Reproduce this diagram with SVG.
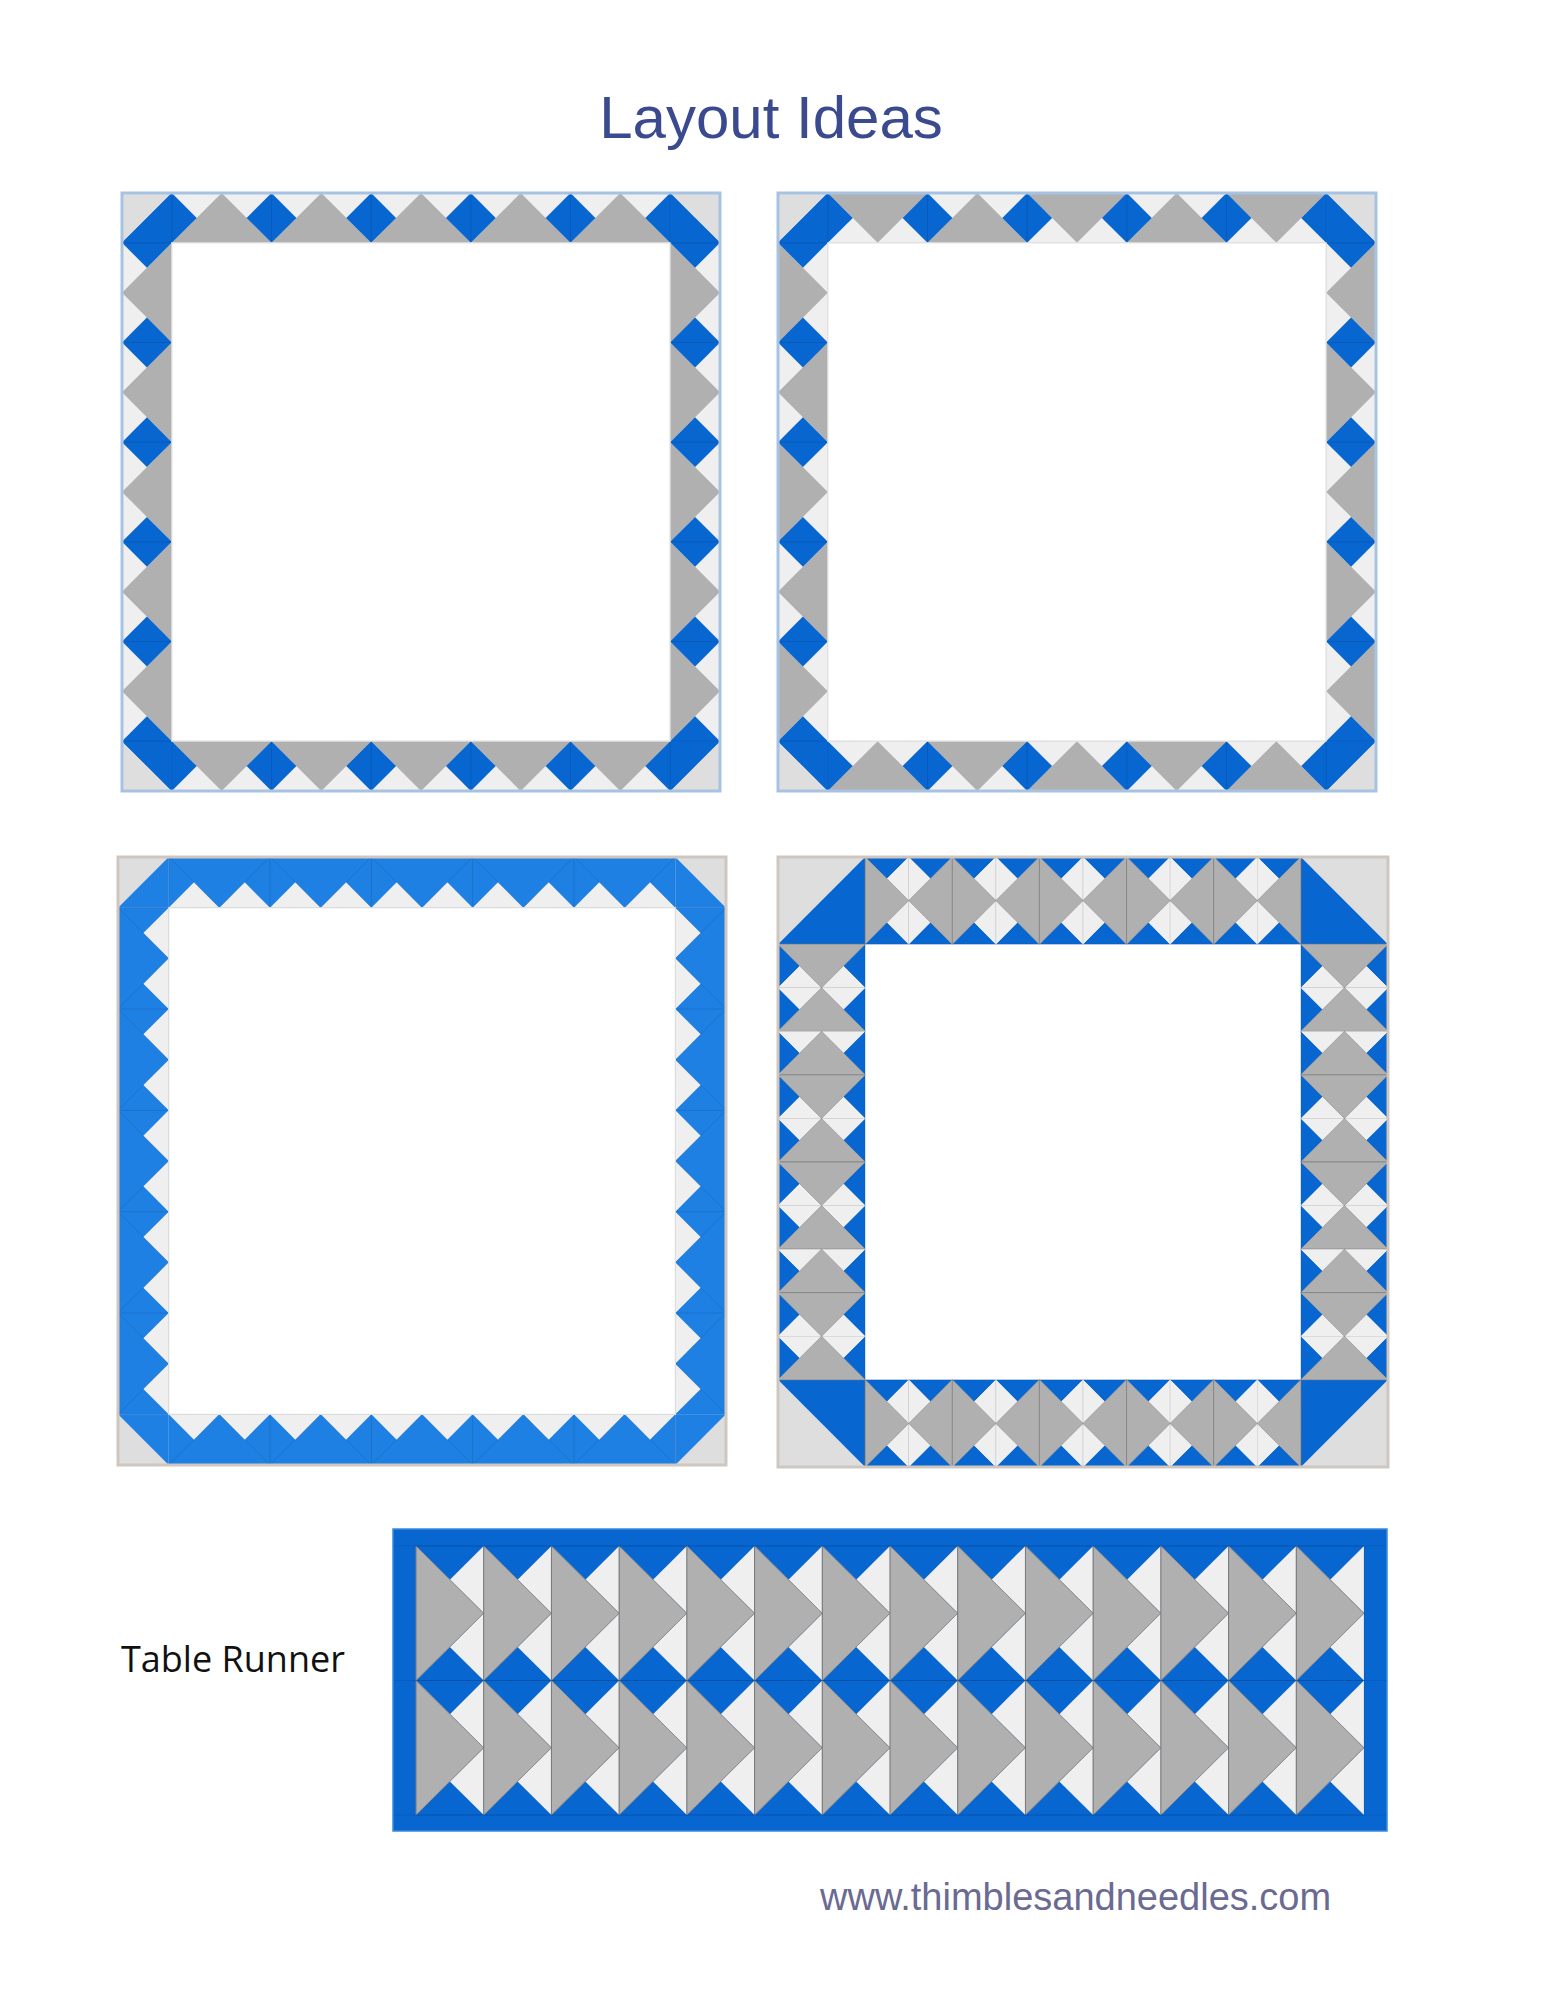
<svg xmlns="http://www.w3.org/2000/svg" width="1545" height="2000" viewBox="0 0 1545 2000">
<style>
.b{fill:#0866d0}
.b3{fill:#1f80e4}
.g{fill:#b0b0b0}
.l{fill:#efefef}
.cl{fill:#dedede}
.sm{fill:none;stroke:#000;stroke-opacity:0.14;stroke-width:0.8}
.gs{fill:#b0b0b0;stroke:#8a8a8a;stroke-width:0.7}
.ut{fill:none;stroke:#000;stroke-opacity:0.13;stroke-width:0.7}
.in{fill:none;stroke:#dcdcdc;stroke-width:1.2}
.title{font-family:"Liberation Sans",Arial,sans-serif;font-size:60px;fill:#3b4a8e}
.url{font-family:"Liberation Sans",Arial,sans-serif;font-size:38px;fill:#6a6a92}
.lab{font-family:"Open Sans","Noto Sans",sans-serif;font-size:36px;fill:#111}
</style>
<defs>
<g id="q1s">
<rect x="50" y="0" width="500" height="50" class="l"/>
<polygon class="cl" points="0,0 50,0 0,50"/>
<polygon class="b" points="50,0 50,50 0,50"/>
<polygon class="g" points="50,50 100,0 150,50"/>
<polygon class="g" points="150,50 200,0 250,50"/>
<polygon class="g" points="250,50 300,0 350,50"/>
<polygon class="g" points="350,50 400,0 450,50"/>
<polygon class="g" points="450,50 500,0 550,50"/>
<polygon class="b" points="25,25 50,0 75,25 50,50"/>
<polygon class="b" points="125,25 150,0 175,25 150,50"/>
<polygon class="b" points="225,25 250,0 275,25 250,50"/>
<polygon class="b" points="325,25 350,0 375,25 350,50"/>
<polygon class="b" points="425,25 450,0 475,25 450,50"/>
<polygon class="b" points="525,25 550,0 575,25 550,50"/>
<path class="sm" d="M50,0V50M150,0V50M250,0V50M350,0V50M450,0V50M550,0V50"/>
</g>
<g id="q2s">
<rect x="50" y="0" width="500" height="50" class="l"/>
<polygon class="cl" points="0,0 50,0 0,50"/>
<polygon class="b" points="50,0 50,50 0,50"/>
<polygon class="g" points="50,0 150,0 100,50"/>
<polygon class="g" points="150,50 200,0 250,50"/>
<polygon class="g" points="250,0 350,0 300,50"/>
<polygon class="g" points="350,50 400,0 450,50"/>
<polygon class="g" points="450,0 550,0 500,50"/>
<polygon class="b" points="25,25 50,0 75,25 50,50"/>
<polygon class="b" points="125,25 150,0 175,25 150,50"/>
<polygon class="b" points="225,25 250,0 275,25 250,50"/>
<polygon class="b" points="325,25 350,0 375,25 350,50"/>
<polygon class="b" points="425,25 450,0 475,25 450,50"/>
<polygon class="b" points="525,25 550,0 575,25 550,50"/>
<path class="sm" d="M50,0V50M150,0V50M250,0V50M350,0V50M450,0V50M550,0V50"/>
</g>
<g id="q3s">
<rect x="50" y="0" width="500" height="50" class="b3"/>
<polygon class="cl" points="0,0 50,0 0,50"/>
<polygon class="b3" points="50,0 50,50 0,50"/>
<polygon class="l" points="50,50 75,25 100,50 125,25 150,50 175,25 200,50 225,25 250,50 275,25 300,50 325,25 350,50 375,25 400,50 425,25 450,50 475,25 500,50 525,25 550,50"/>
<path class="sm" d="M50,0L100,50L150,0L200,50L250,0L300,50L350,0L400,50L450,0L500,50L550,0M50,0V50M150,0V50M250,0V50M350,0V50M450,0V50M550,0V50"/>
</g>
<g id="gR">
<polygon class="b" points="0,0 50,0 25,25"/>
<polygon class="b" points="0,100 50,100 25,75"/>
<polygon class="l" points="25,25 50,0 50,50"/>
<polygon class="l" points="25,75 50,50 50,100"/>
<polygon class="gs" points="0,0 0,100 50,50"/>
<rect class="ut" x="0" y="0" width="50" height="100"/>
</g>
<g id="gL">
<polygon class="b" points="0,0 50,0 25,25"/>
<polygon class="b" points="0,100 50,100 25,75"/>
<polygon class="l" points="25,25 0,0 0,50"/>
<polygon class="l" points="25,75 0,50 0,100"/>
<polygon class="gs" points="50,0 50,100 0,50"/>
<rect class="ut" x="0" y="0" width="50" height="100"/>
</g>
<g id="gU">
<polygon class="b" points="0,0 25,25 0,50"/>
<polygon class="b" points="100,0 75,25 100,50"/>
<polygon class="l" points="0,0 50,0 25,25"/>
<polygon class="l" points="50,0 100,0 75,25"/>
<polygon class="gs" points="0,50 100,50 50,0"/>
<rect class="ut" x="0" y="0" width="100" height="50"/>
</g>
<g id="gD">
<polygon class="b" points="0,0 25,25 0,50"/>
<polygon class="b" points="100,0 75,25 100,50"/>
<polygon class="l" points="0,50 50,50 25,25"/>
<polygon class="l" points="50,50 100,50 75,25"/>
<polygon class="gs" points="0,0 100,0 50,50"/>
<rect class="ut" x="0" y="0" width="100" height="50"/>
</g>
</defs>
<rect width="1545" height="2000" fill="#ffffff"/>
<text class="title" x="771" y="138" text-anchor="middle">Layout Ideas</text>

<g id="quilt1">
<g transform="translate(122 193) scale(0.99667)">
<use href="#q1s"/>
<use href="#q1s" transform="rotate(90 300 300)"/>
<use href="#q1s" transform="rotate(180 300 300)"/>
<use href="#q1s" transform="rotate(270 300 300)"/>
</g>
<rect class="in" x="171.8" y="242.8" width="498.3" height="498.3"/>
<rect x="122" y="193" width="598" height="598" fill="none" stroke="#a7c3e3" stroke-width="3"/>
</g>

<g id="quilt2">
<g transform="translate(778 193) scale(0.99667)">
<use href="#q2s"/>
<use href="#q2s" transform="rotate(90 300 300)"/>
<use href="#q2s" transform="rotate(180 300 300)"/>
<use href="#q2s" transform="rotate(270 300 300)"/>
</g>
<rect class="in" x="827.8" y="242.8" width="498.3" height="498.3"/>
<rect x="778" y="193" width="598" height="598" fill="none" stroke="#a7c3e3" stroke-width="3"/>
</g>

<g id="quilt3">
<g transform="translate(118 857) scale(1.01333)">
<use href="#q3s"/>
<use href="#q3s" transform="rotate(90 300 300)"/>
<use href="#q3s" transform="rotate(180 300 300)"/>
<use href="#q3s" transform="rotate(270 300 300)"/>
</g>
<rect class="in" x="168.7" y="907.7" width="506.7" height="506.7"/>
<rect x="118" y="857" width="608" height="608" fill="none" stroke="#cfc7bf" stroke-width="3"/>
</g>

<g id="quilt4">
<polygon class="cl" points="778,857 865.14,857 778,944.14"/>
<polygon class="b" points="865.14,857 865.14,944.14 778,944.14"/>
<polygon class="cl" points="1300.86,857 1388,857 1388,944.14"/>
<polygon class="b" points="1300.86,857 1300.86,944.14 1388,944.14"/>
<polygon class="cl" points="778,1379.86 778,1467 865.14,1467"/>
<polygon class="b" points="778,1379.86 865.14,1379.86 865.14,1467"/>
<polygon class="cl" points="1388,1379.86 1388,1467 1300.86,1467"/>
<polygon class="b" points="1300.86,1379.86 1388,1379.86 1300.86,1467"/>
<use href="#gR" transform="translate(865.14 857) scale(0.87143)"/>
<use href="#gL" transform="translate(908.71 857) scale(0.87143)"/>
<use href="#gR" transform="translate(952.29 857) scale(0.87143)"/>
<use href="#gL" transform="translate(995.86 857) scale(0.87143)"/>
<use href="#gR" transform="translate(1039.43 857) scale(0.87143)"/>
<use href="#gL" transform="translate(1083 857) scale(0.87143)"/>
<use href="#gR" transform="translate(1126.57 857) scale(0.87143)"/>
<use href="#gL" transform="translate(1170.14 857) scale(0.87143)"/>
<use href="#gR" transform="translate(1213.71 857) scale(0.87143)"/>
<use href="#gL" transform="translate(1257.29 857) scale(0.87143)"/>
<use href="#gR" transform="translate(865.14 1379.86) scale(0.87143)"/>
<use href="#gL" transform="translate(908.71 1379.86) scale(0.87143)"/>
<use href="#gR" transform="translate(952.29 1379.86) scale(0.87143)"/>
<use href="#gL" transform="translate(995.86 1379.86) scale(0.87143)"/>
<use href="#gR" transform="translate(1039.43 1379.86) scale(0.87143)"/>
<use href="#gL" transform="translate(1083 1379.86) scale(0.87143)"/>
<use href="#gR" transform="translate(1126.57 1379.86) scale(0.87143)"/>
<use href="#gL" transform="translate(1170.14 1379.86) scale(0.87143)"/>
<use href="#gR" transform="translate(1213.71 1379.86) scale(0.87143)"/>
<use href="#gL" transform="translate(1257.29 1379.86) scale(0.87143)"/>
<use href="#gD" transform="translate(778 944.14) scale(0.87143)"/>
<use href="#gU" transform="translate(778 987.71) scale(0.87143)"/>
<use href="#gU" transform="translate(778 1031.29) scale(0.87143)"/>
<use href="#gD" transform="translate(778 1074.86) scale(0.87143)"/>
<use href="#gU" transform="translate(778 1118.43) scale(0.87143)"/>
<use href="#gD" transform="translate(778 1162) scale(0.87143)"/>
<use href="#gU" transform="translate(778 1205.57) scale(0.87143)"/>
<use href="#gU" transform="translate(778 1249.14) scale(0.87143)"/>
<use href="#gD" transform="translate(778 1292.71) scale(0.87143)"/>
<use href="#gU" transform="translate(778 1336.29) scale(0.87143)"/>
<use href="#gD" transform="translate(1300.86 944.14) scale(0.87143)"/>
<use href="#gU" transform="translate(1300.86 987.71) scale(0.87143)"/>
<use href="#gU" transform="translate(1300.86 1031.29) scale(0.87143)"/>
<use href="#gD" transform="translate(1300.86 1074.86) scale(0.87143)"/>
<use href="#gU" transform="translate(1300.86 1118.43) scale(0.87143)"/>
<use href="#gD" transform="translate(1300.86 1162) scale(0.87143)"/>
<use href="#gU" transform="translate(1300.86 1205.57) scale(0.87143)"/>
<use href="#gU" transform="translate(1300.86 1249.14) scale(0.87143)"/>
<use href="#gD" transform="translate(1300.86 1292.71) scale(0.87143)"/>
<use href="#gU" transform="translate(1300.86 1336.29) scale(0.87143)"/>
<rect x="778" y="857" width="610" height="610" fill="none" stroke="#cfc7bf" stroke-width="3"/>
</g>

<text class="lab" x="121" y="1672">Table Runner</text>

<g id="runner">
<rect x="393" y="1529" width="994" height="302" class="b"/>
<use href="#gR" transform="translate(416 1546) scale(1.35429 1.345)"/>
<use href="#gR" transform="translate(483.71 1546) scale(1.35429 1.345)"/>
<use href="#gR" transform="translate(551.43 1546) scale(1.35429 1.345)"/>
<use href="#gR" transform="translate(619.14 1546) scale(1.35429 1.345)"/>
<use href="#gR" transform="translate(686.86 1546) scale(1.35429 1.345)"/>
<use href="#gR" transform="translate(754.57 1546) scale(1.35429 1.345)"/>
<use href="#gR" transform="translate(822.29 1546) scale(1.35429 1.345)"/>
<use href="#gR" transform="translate(890 1546) scale(1.35429 1.345)"/>
<use href="#gR" transform="translate(957.71 1546) scale(1.35429 1.345)"/>
<use href="#gR" transform="translate(1025.43 1546) scale(1.35429 1.345)"/>
<use href="#gR" transform="translate(1093.14 1546) scale(1.35429 1.345)"/>
<use href="#gR" transform="translate(1160.86 1546) scale(1.35429 1.345)"/>
<use href="#gR" transform="translate(1228.57 1546) scale(1.35429 1.345)"/>
<use href="#gR" transform="translate(1296.29 1546) scale(1.35429 1.345)"/>
<use href="#gR" transform="translate(416 1680.5) scale(1.35429 1.345)"/>
<use href="#gR" transform="translate(483.71 1680.5) scale(1.35429 1.345)"/>
<use href="#gR" transform="translate(551.43 1680.5) scale(1.35429 1.345)"/>
<use href="#gR" transform="translate(619.14 1680.5) scale(1.35429 1.345)"/>
<use href="#gR" transform="translate(686.86 1680.5) scale(1.35429 1.345)"/>
<use href="#gR" transform="translate(754.57 1680.5) scale(1.35429 1.345)"/>
<use href="#gR" transform="translate(822.29 1680.5) scale(1.35429 1.345)"/>
<use href="#gR" transform="translate(890 1680.5) scale(1.35429 1.345)"/>
<use href="#gR" transform="translate(957.71 1680.5) scale(1.35429 1.345)"/>
<use href="#gR" transform="translate(1025.43 1680.5) scale(1.35429 1.345)"/>
<use href="#gR" transform="translate(1093.14 1680.5) scale(1.35429 1.345)"/>
<use href="#gR" transform="translate(1160.86 1680.5) scale(1.35429 1.345)"/>
<use href="#gR" transform="translate(1228.57 1680.5) scale(1.35429 1.345)"/>
<use href="#gR" transform="translate(1296.29 1680.5) scale(1.35429 1.345)"/>
<path d="M393,1546H1387M393,1680.5H1387M393,1815H1387" fill="none" stroke="#0a4f9e" stroke-opacity="0.5" stroke-width="0.8"/>
<rect x="393" y="1529" width="994" height="302" fill="none" stroke="#3a8ae0" stroke-width="1.5"/>
</g>

<text class="url" x="820" y="1910">www.thimblesandneedles.com</text>
</svg>
